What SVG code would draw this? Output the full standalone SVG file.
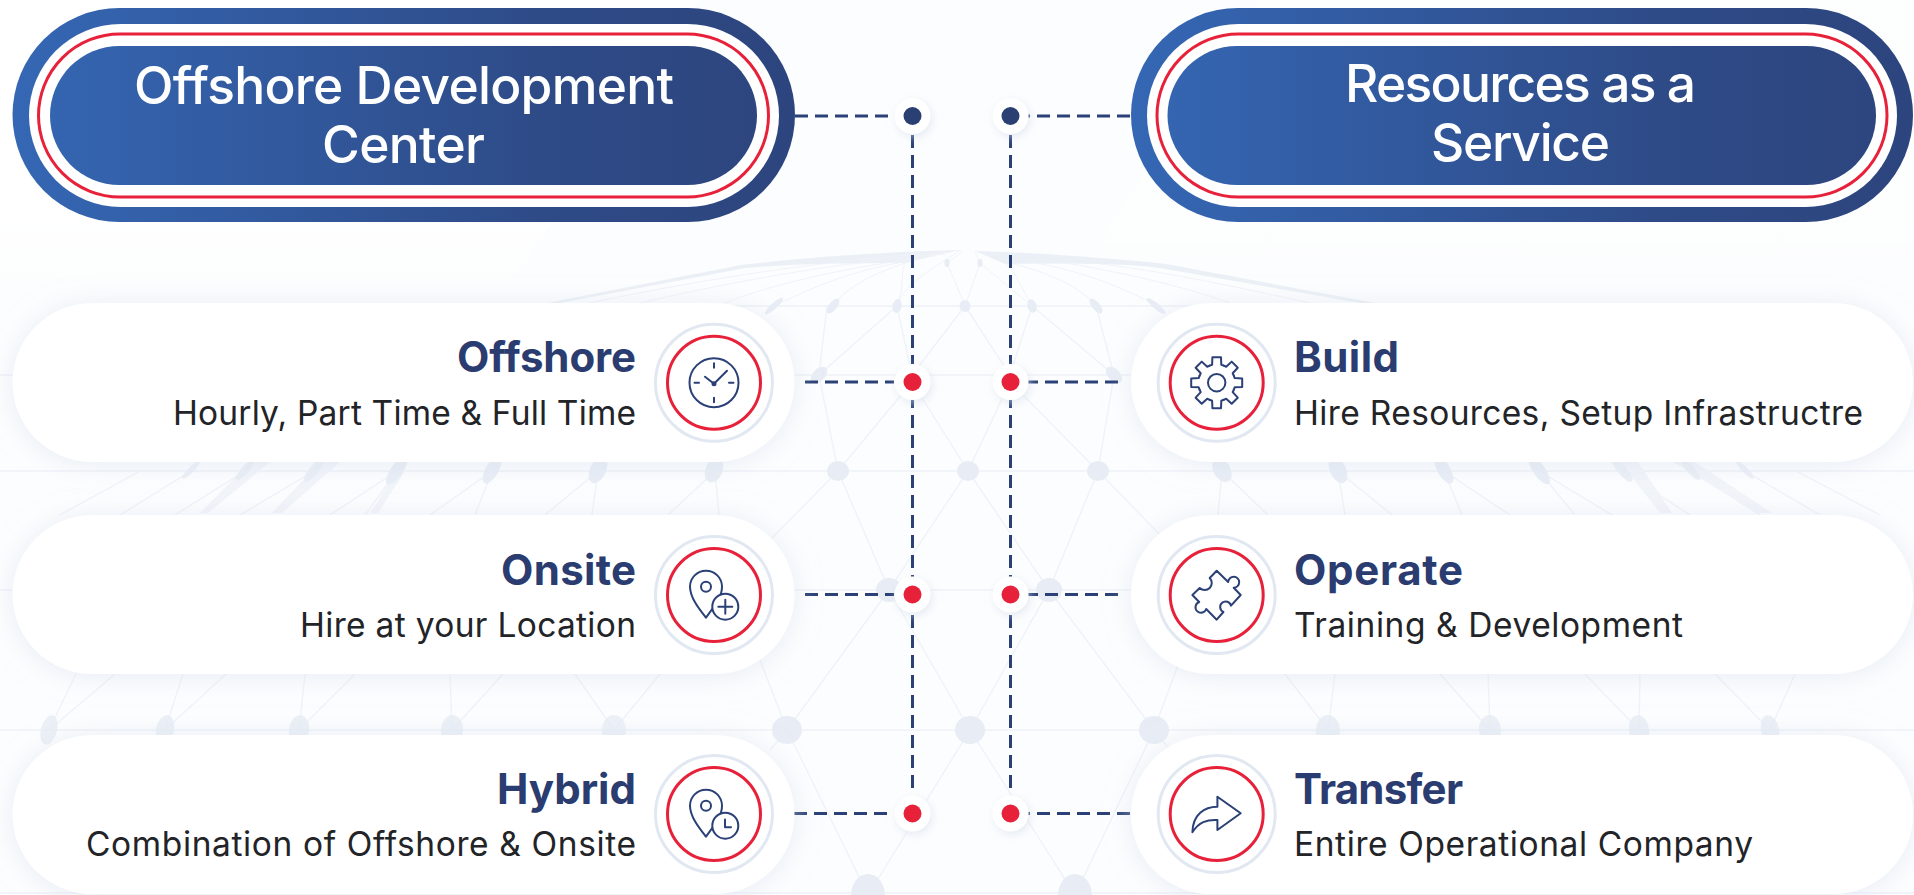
<svg xmlns="http://www.w3.org/2000/svg" xmlns:xlink="http://www.w3.org/1999/xlink" width="1914" height="895" viewBox="0 0 1914 895">
<defs>
<linearGradient id="gL" gradientUnits="userSpaceOnUse" x1="12" y1="0" x2="795" y2="0"><stop offset="0" stop-color="#3567b4"/><stop offset=".7" stop-color="#2e4a86"/><stop offset="1" stop-color="#2d457e"/></linearGradient>
<linearGradient id="gR" gradientUnits="userSpaceOnUse" x1="1131" y1="0" x2="1913" y2="0"><stop offset="0" stop-color="#3567b4"/><stop offset=".7" stop-color="#2e4a86"/><stop offset="1" stop-color="#2d457e"/></linearGradient>
<linearGradient id="fade" x1="0" y1="0" x2="0" y2="1"><stop offset="0" stop-color="#fff"/><stop offset=".7" stop-color="#fff"/><stop offset="1" stop-color="#fff" stop-opacity="0"/></linearGradient>
<filter id="sh" x="-10%" y="-30%" width="120%" height="160%"><feDropShadow dx="0" dy="2" stdDeviation="13" flood-color="#d5deec" flood-opacity=".55"/></filter>
<filter id="hs" x="-60%" y="-60%" width="220%" height="220%"><feDropShadow dx="2" dy="3" stdDeviation="5" flood-color="#d5deec" flood-opacity=".6"/></filter>
<path id="tooth" d="M-7.08-17.09L-4.6-18L-4.3-25.5H4.3L4.6-18L7.08-17.09"/>
<path id="pin" d="M-8 22.7C-14 15-24 3-24-8.3A16 16 0 0 1 8-8.3C8-3 6 2 4 6L-8 22.7Z"/>
<g id="ringset"><circle r="58.5" class="ring"/><circle r="46.5" class="red"/></g>
</defs>
<style>
.bl{stroke:#eff2f8;stroke-width:1.4;fill:none}
.bf{stroke:#f0f3f8;stroke-width:1;fill:none}
.bh{stroke:#f1f4f9;stroke-width:2;fill:none}
.be{fill:#e8edf5}
.ring{fill:#fff;stroke:#e1e8f2;stroke-width:3}
.red{fill:none;stroke:#e8213a;stroke-width:3}
.ic{fill:none;stroke:#2a4076;stroke-width:2;stroke-linecap:round;stroke-linejoin:round}
.card{fill:#fff;filter:url(#sh)}
.t{font-family:Inter,"Liberation Sans",sans-serif;font-weight:700;font-size:42px;fill:#2a3c70}
.b{font-family:Inter,"Liberation Sans",sans-serif;font-weight:400;font-size:33.5px;fill:#222428}
.h{font-family:Inter,"Liberation Sans",sans-serif;font-weight:500;font-size:51.5px;fill:#fff;text-anchor:middle}
.e{text-anchor:end}
.dash{fill:none;stroke:#2a4076;stroke-width:3;stroke-dasharray:13 7}
.halo{fill:#fff;filter:url(#hs)}
.dr{fill:#e8213a}
.dn{fill:#2a3f72}
</style>
<rect width="1914" height="895" fill="#fcfdfe"/>
<g id="background">
<polygon points="0,0 700,0 500,300 0,300" fill="url(#fade)"/>
<polygon points="1914,0 1260,0 1060,300 1914,300" fill="url(#fade)" opacity=".4"/>
<path d="M960 250C880 252 800 258 741 265L547 303H560L745 268C790 264 840 263 905 263C925 258 945 253 960 250Z" class="be" opacity=".85"/>
<path d="M975 251C1040 253 1110 258 1166 264L1375 303H1360L1160 268C1120 263 1060 263 1005 264Z" class="be" opacity=".85"/>
<path class="bf" d="M950 252C850 258 720 275 590 303M945 254C840 262 740 280 640 303M935 256C840 268 770 285 725 303M925 258C850 270 820 285 780 303M915 260C880 270 850 285 835 303M905 262C900 275 905 290 897 303M960 250C945 262 905 280 897 306M962 252L947 263L965 306M975 252C980 262 980 263 980 263L965 306M980 263L1032 306M1032 306C1020 285 1015 270 1005 263M1010 263C1040 270 1080 285 1096 306M1030 262C1080 270 1130 290 1156 306M1060 262C1120 272 1180 285 1230 303M1100 264C1170 272 1250 290 1310 303"/>
<path class="bh" d="M547 306H1375M0 375H1914M0 471H1914M0 590H1914M0 730H1914M0 893H1914"/>
<path class="bl" d="M827 306L819 375L838 471M897 306L819 375M897 306L912 375M965 306L912 375M912 382L968 471M912 382L838 471M965 306L1010 375M1010 382L968 471M1010 382L1098 471M1032 306L1010 375M1032 306L1114 375M1096 306L1114 375L1098 471M838 471L889 590M968 471L889 590M968 471L1049 590M1098 471L1049 590M838 471L770 540M1098 471L1165 540M889 590L787 730M889 590L970 730M1049 590L970 730M1049 590L1154 730M760 660L787 730M1178 665L1154 730M787 730L868 895M970 730L868 895M970 730L1075 895M1154 730L1075 895M787 730L770 750M1154 730L1170 750M715 471L719 515M715 471L668 515M598 471L592 515M598 471L545 515M492 471L475 515M492 471L430 515M397 471L365 515M397 471L330 515M314 471L240 515M245 471L175 515M191 471L120 515M140 471L60 515M1222 471L1218 515M1222 471L1268 515M1338 471L1345 515M1338 471L1392 515M1444 471L1462 515M1444 471L1510 515M1539 471L1575 515M1539 471L1612 515M1622 471L1690 515M1691 471L1760 515M1745 471L1820 515M1796 471L1880 515M614 730L660 674M614 730L575 674M452 730L450 674M452 730L503 674M299 730L305 674M299 730L355 674M165 730L183 674M165 730L226 674M49 730L76 674M49 730L115 674M1328 730L1285 674M1328 730L1335 674M1490 730L1440 674M1490 730L1488 674M1639 730L1585 674M1639 730L1640 674M1770 730L1715 674M1770 730L1795 674"/>
<path d="M320 462L272 513H282L340 462ZM250 462L200 513H208L270 462ZM397 471L370 513H378L405 471ZM1673 462L1758 513H1772L1695 462ZM1620 462L1660 513H1672L1638 462Z" fill="#f1f4f9"/>
<g class="be">
<ellipse cx="947" cy="263" rx="2.5" ry="4"/><ellipse cx="980" cy="263" rx="2.5" ry="4"/>
<ellipse cx="774" cy="306" rx="3" ry="12" transform="rotate(48 774 306)"/><ellipse cx="833" cy="306" rx="4" ry="9" transform="rotate(38 833 306)"/><ellipse cx="897" cy="306" rx="4.500" ry="7" transform="rotate(12 897 306)"/><ellipse cx="965" cy="306" rx="5.500" ry="6"/><ellipse cx="1032" cy="306" rx="4.500" ry="7" transform="rotate(-15 1032 306)"/><ellipse cx="1096" cy="306" rx="4" ry="9" transform="rotate(-40 1096 306)"/><ellipse cx="1156" cy="306" rx="3" ry="12" transform="rotate(-50 1156 306)"/>
<ellipse cx="819" cy="375" rx="6" ry="10" transform="rotate(45 819 375)"/><ellipse cx="1114" cy="375" rx="6" ry="10" transform="rotate(-45 1114 375)"/>
<g opacity=".8"><ellipse cx="191" cy="470" rx="3" ry="12" transform="rotate(45 191 470)"/><ellipse cx="245" cy="470" rx="4" ry="13" transform="rotate(42 245 470)"/><ellipse cx="314" cy="470" rx="4.500" ry="15" transform="rotate(40 314 470)"/></g>
<ellipse cx="397" cy="470" rx="6" ry="17" transform="rotate(35 397 470)"/><ellipse cx="492" cy="470" rx="6.500" ry="15" transform="rotate(30 492 470)"/><ellipse cx="598" cy="470" rx="8" ry="14" transform="rotate(25 598 470)"/><ellipse cx="714" cy="470" rx="8.500" ry="13" transform="rotate(22 714 470)"/>
<ellipse cx="838" cy="471" rx="11" ry="10"/><ellipse cx="968" cy="471" rx="11" ry="10"/><ellipse cx="1098" cy="471" rx="11" ry="10"/>
<ellipse cx="1222" cy="470" rx="8.500" ry="13" transform="rotate(-30 1222 470)"/><ellipse cx="1338" cy="470" rx="8" ry="14" transform="rotate(-25 1338 470)"/><ellipse cx="1444" cy="470" rx="6.500" ry="15" transform="rotate(-30 1444 470)"/><ellipse cx="1539" cy="470" rx="6" ry="17" transform="rotate(-35 1539 470)"/>
<g opacity=".8"><ellipse cx="1622" cy="470" rx="4.500" ry="15" transform="rotate(-40 1622 470)"/><ellipse cx="1691" cy="470" rx="4" ry="13" transform="rotate(-42 1691 470)"/><ellipse cx="1745" cy="470" rx="3" ry="12" transform="rotate(-45 1745 470)"/></g>
<ellipse cx="889" cy="590" rx="13" ry="12"/><ellipse cx="1049" cy="590" rx="13" ry="12"/>
<g opacity=".8"><ellipse cx="49" cy="730" rx="8" ry="15" transform="rotate(15 49 730)"/><ellipse cx="165" cy="730" rx="9" ry="15" transform="rotate(12 165 730)"/><ellipse cx="299" cy="730" rx="10" ry="15" transform="rotate(8 299 730)"/><ellipse cx="452" cy="730" rx="11" ry="15" transform="rotate(3 452 730)"/><ellipse cx="614" cy="730" rx="12" ry="15"/></g>
<ellipse cx="787" cy="730" rx="15" ry="14"/><ellipse cx="970" cy="730" rx="15" ry="14"/><ellipse cx="1154" cy="730" rx="15" ry="14"/>
<g opacity=".8"><ellipse cx="1328" cy="730" rx="12" ry="15"/><ellipse cx="1490" cy="730" rx="11" ry="15" transform="rotate(-3 1490 730)"/><ellipse cx="1639" cy="730" rx="10" ry="15" transform="rotate(-8 1639 730)"/><ellipse cx="1770" cy="730" rx="9" ry="15" transform="rotate(-12 1770 730)"/></g>
<ellipse cx="868" cy="895" rx="17" ry="21"/><ellipse cx="1075" cy="895" rx="17" ry="21"/>
</g>
</g>
<g id="connectors">
<path class="dash" d="M795 116H894M805 382H894M805 594.500H894M794 813.500H894"/>
<path class="dash" d="M1130 116H1028M1118 382H1028M1118 594.500H1028M1130 813.500H1028"/>
<path class="dash" d="M912.500 135V795M1010.500 135V795"/>
</g>
<g id="dots">
<g id="dot-l0"><circle cx="912.500" cy="116" r="18" class="halo"/><circle cx="912.500" cy="116" r="9" class="dn"/></g>
<g id="dot-r0"><circle cx="1010.500" cy="116" r="18" class="halo"/><circle cx="1010.500" cy="116" r="9" class="dn"/></g>
<g id="dot-l1"><circle cx="912.500" cy="382" r="18" class="halo"/><circle cx="912.500" cy="382" r="9" class="dr"/></g>
<g id="dot-r1"><circle cx="1010.500" cy="382" r="18" class="halo"/><circle cx="1010.500" cy="382" r="9" class="dr"/></g>
<g id="dot-l2"><circle cx="912.500" cy="594.500" r="18" class="halo"/><circle cx="912.500" cy="594.500" r="9" class="dr"/></g>
<g id="dot-r2"><circle cx="1010.500" cy="594.500" r="18" class="halo"/><circle cx="1010.500" cy="594.500" r="9" class="dr"/></g>
<g id="dot-l3"><circle cx="912.500" cy="813.500" r="18" class="halo"/><circle cx="912.500" cy="813.500" r="9" class="dr"/></g>
<g id="dot-r3"><circle cx="1010.500" cy="813.500" r="18" class="halo"/><circle cx="1010.500" cy="813.500" r="9" class="dr"/></g>
</g>
<g id="node-odc">
<rect x="12.500" y="8" width="782.500" height="214" rx="107" fill="url(#gL)"/>
<rect x="29" y="24" width="750" height="183" rx="91.500" fill="#fff"/>
<rect x="38.500" y="34" width="730" height="163" rx="81.500" fill="none" stroke="#e8213a" stroke-width="3"/>
<rect x="50" y="46" width="707" height="139" rx="69.500" fill="url(#gL)"/>
<text class="h" x="404" y="104" textLength="540">Offshore Development</text>
<text class="h" x="403.500" y="163" textLength="163">Center</text>
</g>
<g id="node-raas">
<rect x="1131" y="8" width="782" height="214" rx="107" fill="url(#gR)"/>
<rect x="1147" y="24" width="750" height="183" rx="91.500" fill="#fff"/>
<rect x="1157" y="34" width="730" height="163" rx="81.500" fill="none" stroke="#e8213a" stroke-width="3"/>
<rect x="1167.500" y="46" width="708.500" height="139" rx="69.500" fill="url(#gR)"/>
<text class="h" x="1520.500" y="102" textLength="351">Resources as a</text>
<text class="h" x="1520.500" y="161" textLength="179">Service</text>
</g>
<g id="node-offshore">
<rect x="12.500" y="303" width="782" height="159" rx="79.500" class="card"/>
<use href="#ringset" x="714" y="382.700"/>
<g transform="translate(714 382.700)" class="ic"><circle r="24.500"/><path d="M0-19.500V-15M0 15V19.500M-19.500 0H-15M15 0H19.500M-9-6L0 1L13-12"/><circle cy="1" r="1.500" fill="#2a4076"/></g>
<text class="t e" x="636" y="372" textLength="179">Offshore</text>
<text class="b e" x="636" y="425" textLength="463">Hourly, Part Time &amp; Full Time</text>
</g>
<g id="node-onsite">
<rect x="12.500" y="515" width="782" height="159" rx="79.500" class="card"/>
<use href="#ringset" x="714" y="595"/>
<g transform="translate(714 595)" class="ic"><use href="#pin"/><circle cx="-8" cy="-8.300" r="5"/><circle cx="11.300" cy="11.700" r="13" fill="#fff"/><path d="M4.300 11.700H18.300M11.300 4.700V18.700"/></g>
<text class="t e" x="636" y="585" textLength="135">Onsite</text>
<text class="b e" x="636" y="637" textLength="336">Hire at your Location</text>
</g>
<g id="node-hybrid">
<rect x="12.500" y="735" width="782" height="159" rx="79.500" class="card"/>
<use href="#ringset" x="714" y="814"/>
<g transform="translate(714 814)" class="ic"><use href="#pin"/><circle cx="-8" cy="-8.300" r="5"/><circle cx="11.300" cy="11.700" r="13" fill="#fff"/><path d="M11 5.500V13.200H17"/></g>
<text class="t e" x="636" y="804" textLength="139">Hybrid</text>
<text class="b e" x="636" y="856" textLength="550">Combination of Offshore &amp; Onsite</text>
</g>
<g id="node-build">
<rect x="1131" y="303" width="782" height="159" rx="79.500" class="card"/>
<use href="#ringset" x="1216.700" y="382.700"/>
<g transform="translate(1216.700 382.700)" class="ic"><circle r="8.700"/><use href="#tooth"/><use href="#tooth" transform="rotate(45)"/><use href="#tooth" transform="rotate(90)"/><use href="#tooth" transform="rotate(135)"/><use href="#tooth" transform="rotate(180)"/><use href="#tooth" transform="rotate(225)"/><use href="#tooth" transform="rotate(270)"/><use href="#tooth" transform="rotate(315)"/></g>
<text class="t" x="1294" y="372" textLength="105">Build</text>
<text class="b" x="1294" y="425" textLength="569">Hire Resources, Setup Infrastructre</text>
</g>
<g id="node-operate">
<rect x="1131" y="515" width="782" height="159" rx="79.500" class="card"/>
<use href="#ringset" x="1216.700" y="595"/>
<g transform="translate(1216.700 595)" class="ic"><path d="M0-24.300L11.500-13A5.500 5.500 0 1 1 17-7.300L24 0L14.300 10.700A5.500 5.500 0 1 0 6.700 17L0 24.700L-10.500 14A5.500 5.500 0 1 1 -17.500 7L-24.300 0L-17-7A5.500 5.500 0 1 0 -7-17Z"/></g>
<text class="t" x="1294" y="585" textLength="169">Operate</text>
<text class="b" x="1294" y="637" textLength="389">Training &amp; Development</text>
</g>
<g id="node-transfer">
<rect x="1131" y="735" width="782" height="159" rx="79.500" class="card"/>
<use href="#ringset" x="1216.700" y="814"/>
<g transform="translate(1216.700 814)" class="ic"><path d="M24-.7L.7-17.300V-7.300C-12-7.300-24 0-24.300 18.300C-18 8-10 5.500 .7 6V16Z"/></g>
<text class="t" x="1294" y="804" textLength="169">Transfer</text>
<text class="b" x="1294" y="856" textLength="459">Entire Operational Company</text>
</g>
</svg>
